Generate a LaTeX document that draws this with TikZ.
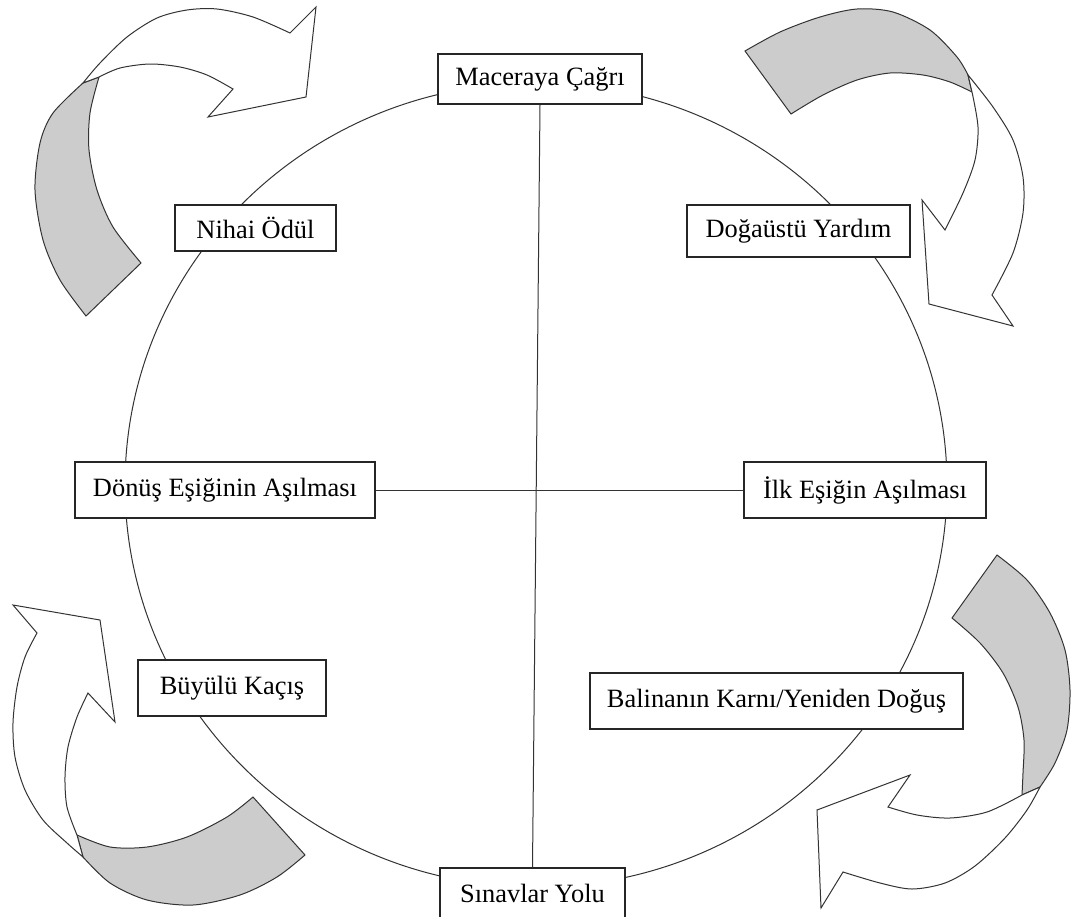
\documentclass[tikz,border=0pt]{standalone}
\usepackage{fontspec}
\setmainfont{Liberation Serif}
\usepackage{tikz}

\begin{document}
\begin{tikzpicture}[x=0.5pt,y=-0.5pt,
	stage/.style={draw=black!85,line width=0.8pt,fill=white,inner sep=0pt,font=\fontsize{13.2}{15}\selectfont},
	back/.style={draw=black!80,line width=0.5pt,fill=black!20},
	front/.style={draw=black!80,line width=0.5pt,fill=white}]
	\useasboundingbox (0,0) rectangle (1071,916);
	
	%wheel
	\draw[black!80,line width=0.5pt] (536,485) ellipse [x radius=205.5pt,y radius=201pt];
	
	%stages
	\node[stage,minimum width=102pt,minimum height=25pt] (mac) at (540,79) {Maceraya Çağrı};
	\node[stage,minimum width=111.5pt,minimum height=26pt] (dog) at (798.5,231) {Doğaüstü Yardım};
	\node[stage,minimum width=121pt,minimum height=28pt] (ilk) at (865,490) {İlk Eşiğin Aşılması};
	\node[stage,minimum width=186.5pt,minimum height=28pt] (bal) at (776.5,701) {Balinanın Karnı/Yeniden Doğuş};
	\node[stage,minimum width=92.5pt,minimum height=25pt] (sin) at (532.5,893) {Sınavlar Yolu};
	\node[stage,minimum width=94pt,minimum height=28pt] (buy) at (232,688) {Büyülü Kaçış};
	\node[stage,minimum width=150pt,minimum height=28pt] (don) at (225,490) {Dönüş Eşiğinin Aşılması};
	\node[stage,minimum width=80.5pt,minimum height=23pt] (nih) at (255.5,228) {Nihai Ödül};
	
	%cross
	\draw[black!80,line width=0.5pt] (mac.south) -- (sin.north);
	\draw[black!80,line width=0.5pt] (don.east) -- (ilk.west);
	
	%top left arrow
	\filldraw[back] plot[smooth] coordinates {(86,316) (60,280) (43,240) (35,190) (40,143) (53,113) (83,83)}
		-- plot[smooth] coordinates {(99,77) (90,113) (89,150) (97,190) (113,227) (141,263)} -- cycle;
	\filldraw[front] plot[smooth] coordinates {(83,83) (100,63) (127,37) (157,18) (187,10) (217,9) (253,17) (290,33)}
		-- (316,7) -- (306,97) -- (208,117)
		-- plot[smooth] coordinates {(233,89) (207,75) (180,67) (150,64) (120,68) (99,77)} -- cycle;
	
	%top right arrow
	\filldraw[back] plot[smooth] coordinates {(745,51) (780,32) (820,17) (857,9) (893,12) (930,30) (957,57) (968,75)}
		-- plot[smooth] coordinates {(972,92) (950,82) (923,75) (890,73) (857,80) (823,95) (791,114)} -- cycle;
	\filldraw[front] plot[smooth] coordinates {(968,75) (993,107) (1013,140) (1023,177) (1023,213) (1013,253) (992,295)}
		-- (1013,326) -- (929,304) -- (922,200)
		-- plot[smooth] coordinates {(945,230) (963,193) (975,160) (978,127) (972,92)} -- cycle;
	
	%bottom left arrow
	\filldraw[back] plot[smooth] coordinates {(253,797) (227,817) (187,837) (147,847) (110,847) (77,835)}
		-- plot[smooth] coordinates {(83,857) (110,883) (147,900) (193,905) (240,895) (277,877) (305,855)} -- cycle;
	\filldraw[front] plot[smooth] coordinates {(83,857) (67,843) (43,820) (25,790) (15,757) (13,723) (17,687) (25,657) (37,633)}
		-- (13,605) -- (100,620) -- (115,722)
		-- plot[smooth] coordinates {(88,693) (77,717) (68,747) (65,777) (67,807) (77,835)} -- cycle;
	
	%bottom right arrow
	\filldraw[back] plot[smooth] coordinates {(997,555) (1027,580) (1050,613) (1065,650) (1070,690) (1067,730) (1055,763) (1040,787)}
		-- plot[smooth] coordinates {(1022,795) (1023,773) (1024,740) (1018,707) (1003,673) (980,643) (952,618)} -- cycle;
	\filldraw[front] plot[smooth] coordinates {(1040,787) (1027,810) (1005,838) (975,866) (945,883) (912,889) (880,883) (843,872)}
		-- (821,908) -- (817,810) -- (910,775)
		-- plot[smooth] coordinates {(888,807) (917,815) (950,818) (987,812) (1022,795)} -- cycle;
\end{tikzpicture}
\end{document}
